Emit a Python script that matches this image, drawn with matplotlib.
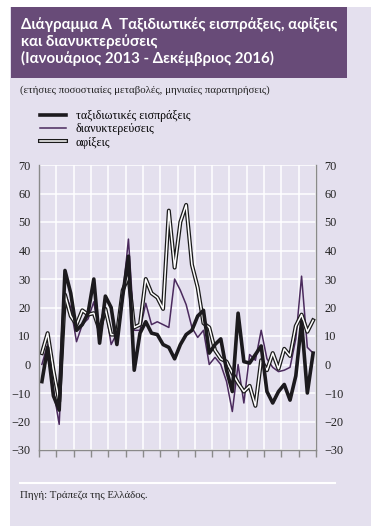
import numpy as np
import matplotlib
matplotlib.use("Agg")
import matplotlib.pyplot as plt
import matplotlib.patches as mpatches
import matplotlib.patheffects as pe
from matplotlib.lines import Line2D

# monthly data, Jan 2013 - Dec 2016 (annual % change)
receipts = [-6, 6, -11, -16, 33, 25, 12, 14, 18, 30, 7.5, 24,
            20, 7, 24, 38, -2, 11, 15, 11, 10.5, 7, 6, 2,
            7, 10.5, 12, 17, 19, 4, 7, 9, -2, -9.5, 18, 1,
            0.5, 3.5, 6.5, -9.5, -13.5, -9.5, -7, -12.5, -4, 15, -10, 4]
overnight = [0, 7, -9, -21, 25, 20, 8, 14, 16, 22, 9, 20,
             7, 11, 24, 44, 12, 12, 21.5, 14, 15, 14, 13, 30,
             26, 21, 13, 9.5, 12, 0, 2.5, 0, -6, -16.5, 0, -13.5,
             3.5, 1.5, 12, 2, -1, -2.5, -2, -1, 9, 31, 6, 4]
arrivals = [4, 11, -2, -13, 24.5, 17, 14, 19, 17.5, 18, 12, 19.5,
            10.5, 10.5, 26, 31, 13, 14, 30, 25, 23.5, 19.5, 54, 34,
            50, 56, 35, 27, 14.5, 13, 5, 2, 1, -3, -6.5, -9.5,
            -7.5, -14.5, 1.5, -2, 4, -1.5, 5.5, 3, 13.5, 17.5, 11.5, 15.5]
years = ['2013', '2014', '2015', '2016']
yticks = [-30, -20, -10, 0, 10, 20, 30, 40, 50, 60, 70]

W, H = 371, 526
lav = '#e4e0ee'
box = '#684b78'
plt.rcParams['font.family'] = ['Liberation Serif', 'DejaVu Serif']

fig = plt.figure(figsize=(W / 100, H / 100), dpi=100)
fig.patch.set_facecolor('white')

def fx(px):
    return px / W

def fy(py):
    return 1 - py / H

# background panel and title box
fig.patches.append(mpatches.Rectangle((fx(10), 0), fx(361), fy(7), transform=fig.transFigure,
                                      facecolor=lav, edgecolor='none', zorder=-2))
fig.patches.append(mpatches.Rectangle((fx(11), fy(78)), fx(336), fy(7) - fy(78), transform=fig.transFigure,
                                      facecolor=box, edgecolor='none', zorder=-1))

title_lines = ['Διάγραμμα Α  Ταξιδιωτικές εισπράξεις, αφίξεις',
               'και διανυκτερεύσεις',
               '(Ιανουάριος 2013 - Δεκέμβριος 2016)']
for k, t in enumerate(title_lines):
    fig.text(fx(21), fy(29 + 17 * k), t, color='white', fontsize=10.8, fontweight='bold',
             family='Lato', va='baseline', ha='left')

fig.text(fx(20), fy(93), '(ετήσιες ποσοστιαίες μεταβολές, μηνιαίες παρατηρήσεις)',
         fontsize=7.8, color='#222222', va='baseline')

ax = fig.add_axes([fx(39), fy(450), fx(316) - fx(39), fy(165) - fy(450)])
ax.set_facecolor(lav)

x = np.arange(len(receipts)) + 0.5
ax.plot(x, overnight, color='#4b2a5e', lw=1.1, zorder=3, label='διανυκτερεύσεις')
ax.plot(x, arrivals, color='white', lw=1.1, zorder=4, label='αφίξεις',
        path_effects=[pe.Stroke(linewidth=2.9, foreground='#1a1a1a'), pe.Normal()])
ax.plot(x, receipts, color='#1c1a1e', lw=2.6, zorder=5, label='ταξιδιωτικές εισπράξεις')

ax.set_xlim(0, 48)
ax.set_ylim(-30, 70)
ax.set_yticks(yticks)
ax.set_xticks(np.arange(0, 49, 3))
ax.set_xticklabels([])
ax.set_xticks([6, 18, 30, 42], minor=True)
ax.set_xticklabels(years, minor=True, fontsize=8.8, color='#222222')
ax.tick_params(axis='x', which='major', length=5, direction='out', color='#8a8a8a', width=1)
ax.tick_params(axis='x', which='minor', length=0, pad=9)
ax.tick_params(axis='y', length=0, labelleft=True, labelright=True, pad=6,
               labelsize=8.8, labelcolor='#222222')
ax.grid(True, which='major', color='white', lw=1.1)
ax.set_axisbelow(True)
for s in ['left', 'right', 'bottom']:
    ax.spines[s].set_color('#8a8a8a')
    ax.spines[s].set_linewidth(1)
    ax.spines[s].set_zorder(6)
ax.spines['top'].set_visible(False)

h = ax.get_legend_handles_labels()
order = [2, 0, 1]
leg = fig.legend([h[0][i] for i in order], [h[1][i] for i in order],
                 loc='upper left', bbox_to_anchor=(fx(35), fy(105)), frameon=False,
                 prop={'size': 8.6}, handlelength=2.2, handletextpad=0.8,
                 labelspacing=0.12, borderaxespad=0)

# source line
fig.add_artist(Line2D([fx(20), fx(335)], [fy(483), fy(483)], color='white', lw=1.5,
                      transform=fig.transFigure))
fig.text(fx(20), fy(498), 'Πηγή: Τράπεζα της Ελλάδος.', fontsize=7.8,
         color='#222222', va='baseline')

fig.savefig('out.png', dpi=100, facecolor=fig.get_facecolor())
